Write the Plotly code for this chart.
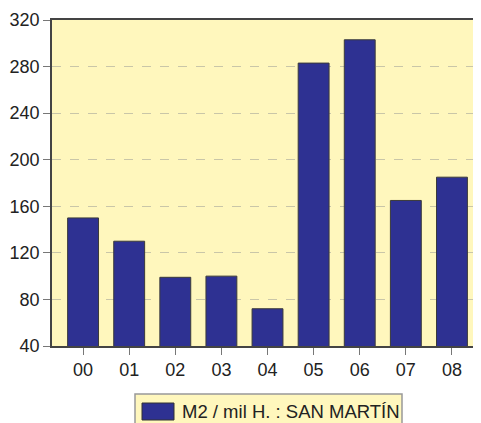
import plotly.graph_objects as go

categories = ["00", "01", "02", "03", "04", "05", "06", "07", "08"]
values = [150, 130, 99, 100, 72, 283, 303, 165, 185]
y_ticks = [40, 80, 120, 160, 200, 240, 280, 320]
series_name = "M2 / mil H. : SAN MARTÍN"

bar_color = "#2E3192"
bg_color = "#FFF7BD"

fig = go.Figure()
fig.add_trace(go.Bar(
    x=categories, y=values, name=series_name,
    marker=dict(color=bar_color, line=dict(color="#3a3a3a", width=1)),
    showlegend=False,
))

OFF = 8  # page body margin
W, H = 481 - OFF, 423 - OFF
ml, mr, mt = 52 - OFF, 0, 20 - OFF
plot_bottom = 346 - OFF
mb = H - plot_bottom
pw, ph = W - ml - mr, H - mt - mb

def px(x):
    return (x - OFF - ml) / pw

def py(y):
    return (H - mb - (y - OFF)) / ph

fig.update_layout(
    width=W, height=H,
    margin=dict(l=ml, r=mr, t=mt, b=mb, pad=0),
    paper_bgcolor="white",
    plot_bgcolor=bg_color,
    bargap=0.33,
    font=dict(family="Liberation Sans, Arial, sans-serif", size=18, color="#222"),
    xaxis=dict(
        type="category", range=[-0.674, 8.63],
        showline=True, linecolor="#444", linewidth=1.5, mirror=True,
        ticks="outside", ticklen=7, tickcolor="#777", tickwidth=1,
        showgrid=False, tickfont=dict(size=18),
    ),
    yaxis=dict(
        range=[40, 320], tickvals=y_ticks,
        showline=True, linecolor="#444", linewidth=1.5,
        ticks="outside", ticklen=7, tickcolor="#777", tickwidth=1,
        showgrid=True, gridcolor="#c9c6a8", griddash="dash", gridwidth=1,
        zeroline=False, tickfont=dict(size=18),
    ),
    shapes=[
        dict(type="rect", xref="paper", yref="paper",
             x0=px(135), x1=px(402), y0=py(394), y1=py(426),
             fillcolor="#FFF7BD", line=dict(color="#999", width=1.5)),
        dict(type="rect", xref="paper", yref="paper",
             x0=px(142), x1=px(174), y0=py(403), y1=py(420),
             fillcolor=bar_color, line=dict(color="#333", width=1)),
    ],
    annotations=[
        dict(text=series_name, xref="paper", yref="paper",
             x=px(180), y=py(411.5), xanchor="left", yanchor="middle",
             showarrow=False, font=dict(size=18.5, color="#222")),
    ],
)

fig.write_html("out.html")
